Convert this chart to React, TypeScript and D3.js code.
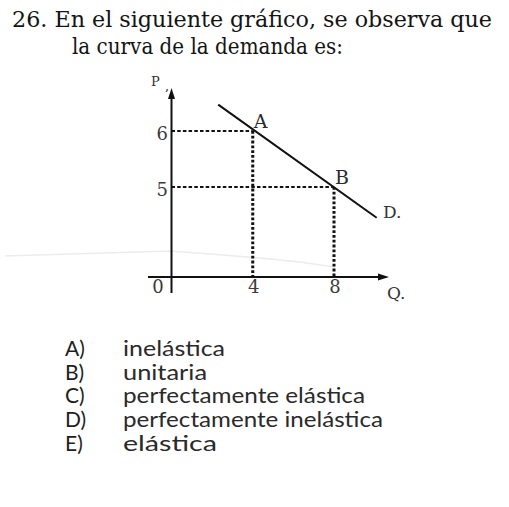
import React from "react";
import * as d3 from "d3";

const W = 509;
const H = 507;

// Question text
const titleLines = ["26. En el siguiente gráfico, se observa que", "la curva de la demanda es:"];
const optionLetters = ["A)", "B)", "C)", "D)", "E)"];
const optionTexts = [
  "inelástica",
  "unitaria",
  "perfectamente elástica",
  "perfectamente inelástica",
  "elástica",
];

// Chart data
const xTicks = [0, 4, 8];
const yTicks = [5, 6];
const pointNames = ["A", "B"];
const pointQ = [4, 8];
const pointP = [6, 5];
const demandQ = [2.3, 10.1];
const demandP = [6.47, 4.45];

export default function App() {
  const x = d3.scaleLinear().domain([0, 8]).range([171.5, 334]);
  const y = d3.scaleLinear().domain([5, 6]).range([187, 131]);
  const originY = 277; // x-axis drawn at origin (axis not to scale)
  const axisX = x(0);

  const line = d3
    .line<[number, number]>()
    .x((d) => x(d[0]))
    .y((d) => y(d[1]));
  const demandPts: [number, number][] = demandQ.map((q, i) => [q, demandP[i]]);

  const serif = "'DejaVu Serif', serif";
  const sans = "'Lato', 'Open Sans', sans-serif";

  const titleWidths = [480, 271];
  const optionWidths = [102, 84, 242, 260, 94];

  return (
    <svg
      width={W}
      height={H}
      viewBox={`0 0 ${W} ${H}`}
      style={{ position: "absolute", left: 0, top: 0, background: "#fff" }}
    >
      <rect x={0} y={0} width={W} height={H} fill="#fff" />
      {/* Title */}
      <text x={12} y={27} fontFamily={serif} fontSize={22} fill="#141414" textLength={titleWidths[0]} lengthAdjust="spacingAndGlyphs">
        {titleLines[0]}
      </text>
      <text x={72} y={54} fontFamily={serif} fontSize={22} fill="#141414" textLength={titleWidths[1]} lengthAdjust="spacingAndGlyphs">
        {titleLines[1]}
      </text>

      {/* faint scan artifact */}
      <path
        d="M5,256 L170,251 L210,254 L260,258 L300,262 L335,267"
        fill="none"
        stroke="#ececec"
        strokeWidth={1.5}
      />

      {/* guide lines */}
      {pointQ.map((q, i) => (
        <g key={"g" + i}>
          <line
            x1={axisX}
            x2={x(q)}
            y1={y(pointP[i])}
            y2={y(pointP[i])}
            stroke="#111"
            strokeWidth={1.8}
            strokeDasharray="3.5 2.2"
          />
          <line
            x1={x(q)}
            x2={x(q)}
            y1={y(pointP[i])}
            y2={originY}
            stroke="#111"
            strokeWidth={3}
            strokeDasharray="2.8 2"
          />
        </g>
      ))}

      {/* axes */}
      <line x1={axisX} x2={axisX} y1={97} y2={293} stroke="#111" strokeWidth={2} />
      <path d={`M${axisX},88 L${axisX - 3.5},99 L${axisX + 3.5},99 Z`} fill="#111" />
      <line x1={148} x2={380} y1={originY} y2={originY} stroke="#111" strokeWidth={2} />
      <path d={`M389,${originY} L378,${originY - 3.5} L378,${originY + 3.5} Z`} fill="#111" />

      {/* demand curve */}
      <path d={line(demandPts) || ""} fill="none" stroke="#111" strokeWidth={2} />

      {/* y tick labels */}
      {yTicks.map((t) => (
        <text key={"y" + t} x={168} y={y(t) + 9} textAnchor="end" fontFamily={serif} fontSize={18} fill="#3a3a3a">
          {t}
        </text>
      ))}
      {/* x tick labels */}
      {xTicks.map((t) => (
        <text key={"x" + t} x={t === 0 ? 158 : x(t) + 1} y={293} textAnchor="middle" fontFamily={serif} fontSize={18} fill="#3a3a3a">
          {t}
        </text>
      ))}

      {/* point labels */}
      {pointNames.map((n, i) => (
        <text key={n} x={x(pointQ[i]) + 1} y={y(pointP[i]) - 3} fontFamily={serif} fontSize={19} fill="#2a2a2a">
          {n}
        </text>
      ))}

      {/* axis names */}
      <text x={151} y={86} fontFamily={serif} fontSize={13} fill="#333">P</text>
      <text x={165} y={90} fontFamily={serif} fontSize={13} fill="#333">,</text>
      <text x={387} y={299} fontFamily={serif} fontSize={17} fill="#333">Q.</text>
      <text x={383} y={218} fontFamily={serif} fontSize={17} fill="#333">D.</text>

      {/* options */}
      {optionLetters.map((l, i) => (
        <g key={l}>
          <text x={65} y={356 + i * 23.7} fontFamily={sans} fontSize={21} fill="#1e1e1e">
            {l}
          </text>
          <text
            x={123}
            y={356 + i * 23.7}
            fontFamily={sans}
            fontSize={21}
            fill="#2a2a2a"
            textLength={optionWidths[i]}
            lengthAdjust="spacingAndGlyphs"
          >
            {optionTexts[i]}
          </text>
        </g>
      ))}
    </svg>
  );
}
